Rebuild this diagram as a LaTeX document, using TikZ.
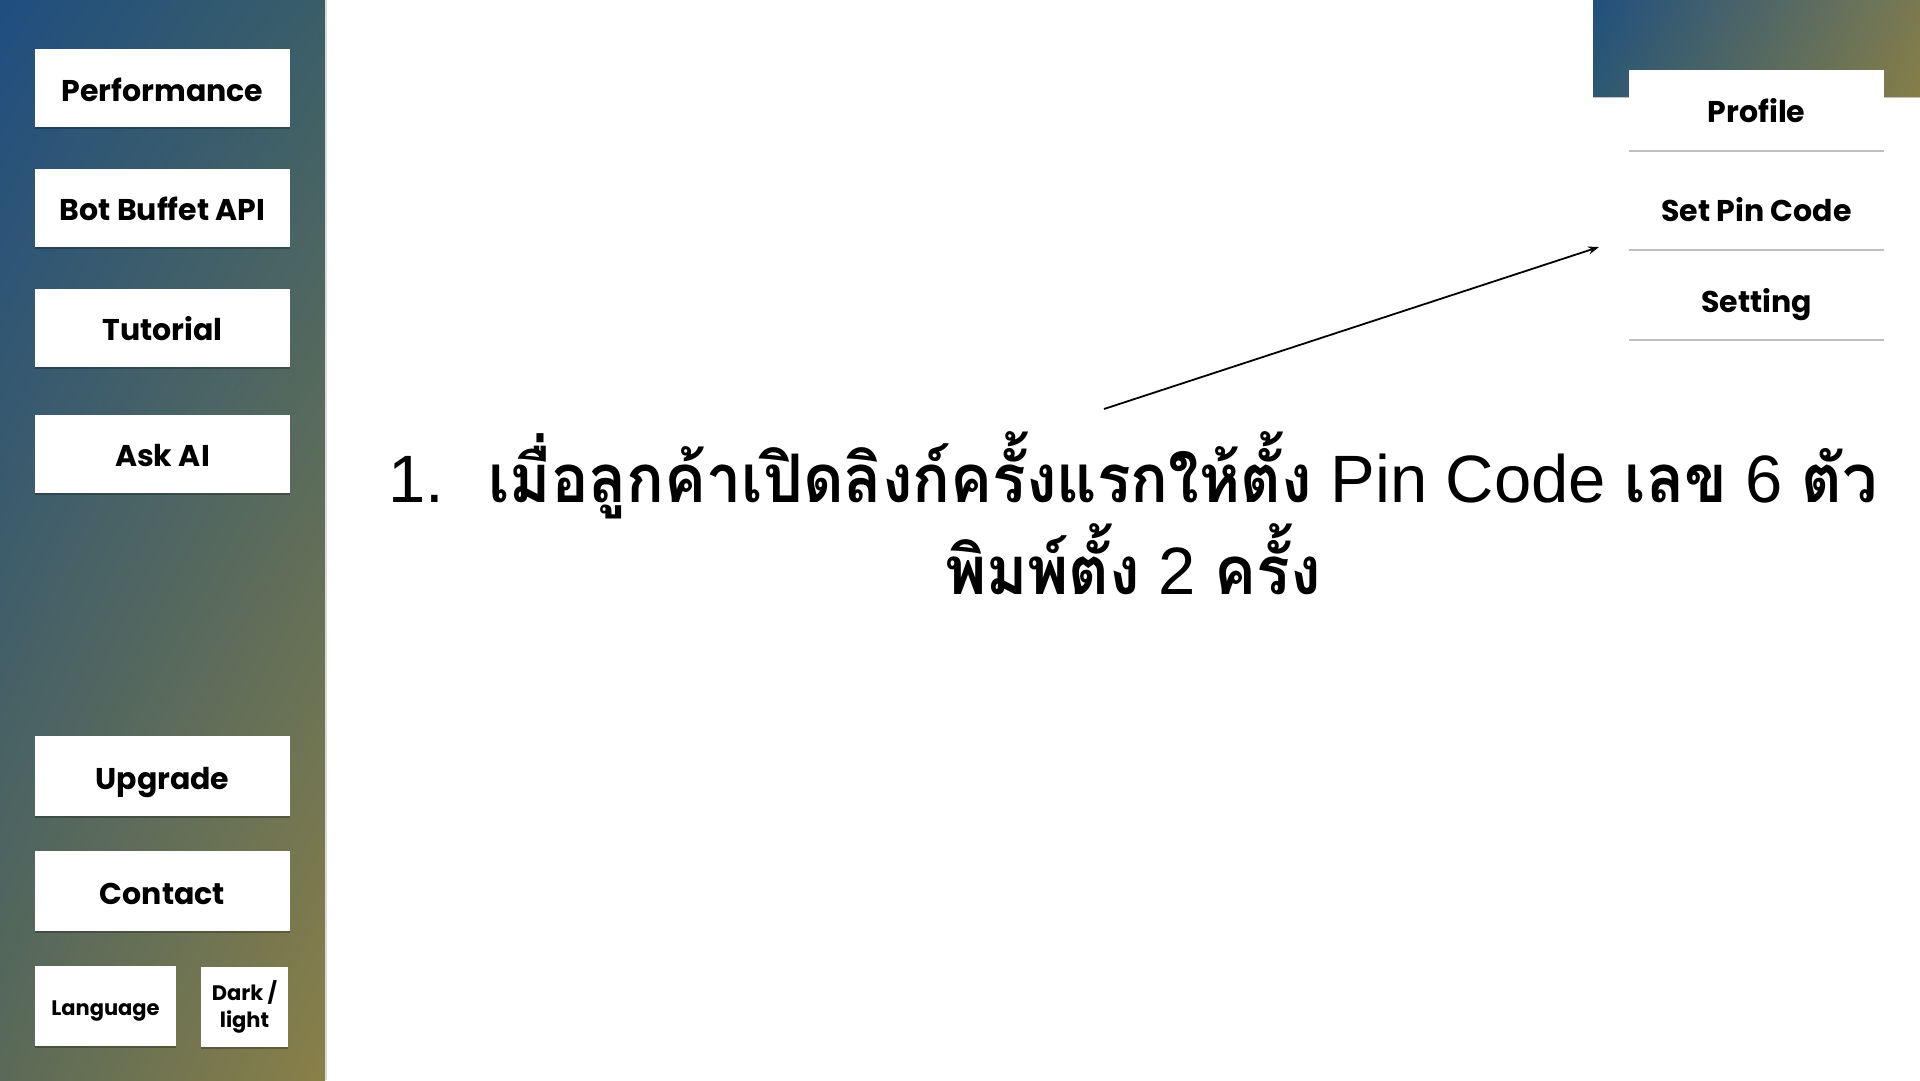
\documentclass[tikz,border=0pt]{standalone}
\usepackage{fontspec}
\setmainfont{Liberation Sans}
\newfontfamily\thaifont[Script=Thai, FakeStretch=0.935]{Loma}
\newfontfamily\boxfont{Poppins}[UprightFont=*-Bold]
\usetikzlibrary{shadings,shadows,arrows.meta}
\definecolor{gUL}{HTML}{1F4E80}
\definecolor{gUR}{HTML}{3A5E68}
\definecolor{gLL}{HTML}{5A6A58}
\definecolor{gLR}{HTML}{8A8048}
\definecolor{tUL}{HTML}{21507E}
\definecolor{tLL}{HTML}{2C5872}
\definecolor{tUR}{HTML}{7A7A52}
\definecolor{tLR}{HTML}{867E48}
\tikzset{
  menubox/.style={fill=white, draw=none, inner sep=0pt, minimum width=255pt, minimum height=78pt,
    font=\boxfont\fontsize{30}{34}\selectfont, text=black, text height=30pt, text depth=4pt,
    drop shadow={shadow xshift=0pt, shadow yshift=-2pt, opacity=0.25, fill=black}},
  smallbox/.style={menubox, font=\boxfont\fontsize{21}{27}\selectfont, text height=22pt, text depth=3pt},
  twoline/.style={menubox, font=\boxfont\fontsize{21}{27}\selectfont, align=center, text height=, text depth=},
  pointer/.style={line width=1.8pt, -{Stealth[length=11pt,width=8pt]}},
}
\newcommand{\thtxt}[1]{{\thaifont\bfseries #1}}
\begin{document}
\begin{tikzpicture}[x=1pt,y=-1pt]
\useasboundingbox (0,0) rectangle (1920,1080);
\fill[white] (0,0) rectangle (1920,1080);
% sidebar
\shade[shading=bilinear interpolation, upper left=gUL, upper right=gUR, lower left=gLL, lower right=gLR]
  (0,0) rectangle (325,1080);
\draw[line width=1.5pt, color=black!15] (326,0) -- (326,1080);
% top-right bar
\fill[black, opacity=0.25] (1593,0) rectangle (1920,98);
\shade[shading=bilinear interpolation, upper left=tUL, upper right=tUR, lower left=tLL, lower right=tLR]
  (1593,0) rectangle (1920,96);
% left menu
\node[menubox] (perf) at (162.5,88) {Performance};
\node[menubox] (api) at (162.5,207.5) {Bot Buffet API};
\node[menubox] (tut) at (162.5,327.5) {Tutorial};
\node[menubox] (ask) at (162.5,453.5) {Ask AI};
\node[menubox, minimum height=80pt] (upg) at (162.5,776) {Upgrade};
\node[menubox, minimum height=80pt] (con) at (162.5,891) {Contact};
\node[smallbox, minimum width=141pt, minimum height=80pt] (lang) at (105.5,1006) {Language};
\node[twoline, minimum width=87pt, minimum height=80pt] (dark) at (244.5,1007) {Dark /\\light};
% right menu
\node[menubox, minimum height=80pt] (prof) at (1756.5,109.5) {Profile};
\node[menubox, minimum height=80pt] (pin) at (1756.5,208.5) {Set Pin Code};
\node[menubox, minimum height=78pt] (set) at (1756.5,299.5) {Setting};
% instruction text
\node[anchor=base, align=center, font=\fontsize{67}{92}\selectfont, inner sep=0pt] (txt) at (1133,594)
  {1.\hspace{44pt}\thtxt{เมื่อลูกค้าเปิดลิงก์ครั้งแรกให้ตั้ง} Pin Code \thtxt{เลข} 6 \thtxt{ตัว}\\
   \thtxt{พิมพ์ตั้ง} 2 \thtxt{ครั้ง}};
% arrow
\coordinate (a1) at (1104,409);
\coordinate (a2) at (1599,247);
\draw[pointer] (a1) -- (a2);
\end{tikzpicture}
\end{document}
